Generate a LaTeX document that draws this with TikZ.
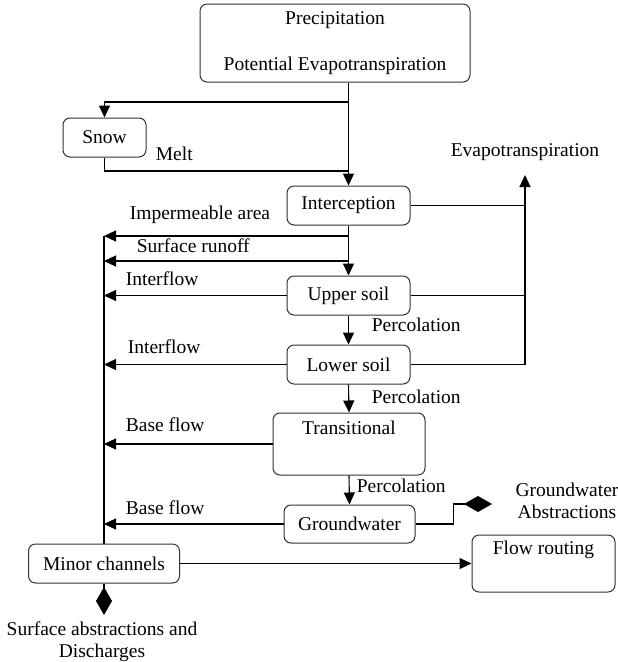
\documentclass[tikz,border=0pt]{standalone}
\usepackage{fontspec}
\setmainfont{Liberation Serif}
\usetikzlibrary{arrows.meta,calc,positioning}
\tikzset{every picture/.style={
  >={Triangle[length=12pt,width=11pt]}   % Large filled arrow heads.
  }
}

\begin{document}
\begin{tikzpicture}[x=1pt,y=-1pt,
    font=\fontsize{19.5}{22}\selectfont,
    stage/.style={
      draw=black!80,
      line width=1pt,
      rounded corners=7pt,
      minimum height=39pt,
      inner sep=2pt
    },
    sink/.style={-{Diamond[length=28pt,width=16pt]}},
    every path/.style={line width=1.1pt}
  ]

    \useasboundingbox (0,0) rectangle (618,662);

    % Draw the stores of the model.
    \node[stage,minimum width=270pt,minimum height=78pt,align=center]
      (prec) at (335,43) {Precipitation\\[24pt]Potential Evapotranspiration};
    \node[stage,minimum width=83pt] (snow) at (104.5,137.5) {Snow};
    \node[stage,minimum width=123pt] (intc) at (348.5,205.5) {Interception};
    \node[stage,minimum width=123pt] (upper) at (348.5,295.5) {Upper soil};
    \node[stage,minimum width=123pt] (lower) at (348.5,364.5) {Lower soil};
    \node[stage,minimum width=152pt,text height=16pt,text depth=36pt,
      inner sep=5pt] (trans) at (349,444) {Transitional};
    \node[stage,minimum width=131pt,minimum height=38pt]
      (gw) at (349.5,524) {Groundwater};
    \node[stage,minimum width=151pt] (minor) at (104,563.5) {Minor channels};
    \node[stage,minimum width=143pt,text height=14pt,text depth=33pt,
      inner sep=5pt] (route) at (543.5,563.5) {Flow routing};

    % Vertical path through the column.
    \draw[->] (intc |- prec.south) -- (intc.north);
    \draw[->] (intc.south) -- (upper.north);
    \draw[->] (upper.south) -- (lower.north);
    \draw[->] (lower.south) -- (trans.north);
    \draw[->] (trans.south) -- (gw.north);
    \node[anchor=west] (perc1) at (368,325) {Percolation};
    \node[anchor=west] (perc2) at (368,397) {Percolation};
    \node[anchor=west] (perc3) at (353,486) {Percolation};

    % Snow branch and melt.
    \coordinate (split) at (348,102);
    \coordinate (merge) at (348,171);
    \draw[->] (split) -| (snow.north);
    \draw (snow.south) |- (merge);
    \node[anchor=west] (melt) at (152,154) {Melt};

    % Collector towards the minor channels.
    \coordinate (ctop) at (104,236);
    \coordinate (srun) at (104,261);
    \draw (ctop) -- (minor.north);
    \draw[->] (intc.south |- ctop) -- (ctop);
    \draw[->] (intc.south |- srun) -- (srun);
    \draw[->] (upper.west) -- (upper.west -| ctop);
    \draw[->] (lower.west) -- (lower.west -| ctop);
    \draw[->] (trans.west) -- (trans.west -| ctop);
    \draw[->] (gw.west) -- (gw.west -| ctop);

    % Label the lateral flows.
    \node (imp) at (200,215) {Impermeable area};
    \node[anchor=west] (surf) at (133,246) {Surface runoff};
    \node[anchor=west] (inter1) at (122,279) {Interflow};
    \node[anchor=west] (inter2) at (124,347) {Interflow};
    \node[anchor=west] (base1) at (122,425) {Base flow};
    \node[anchor=west] (base2) at (122,508) {Base flow};

    % Evapotranspiration losses.
    \coordinate (etx) at (525,175);
    \draw[->] (lower.east) -| (etx);
    \draw (intc.east) -- (intc.east -| etx);
    \draw (upper.east) -- (upper.east -| etx);
    \node[above=10pt of etx] (evap) {Evapotranspiration};

    % Abstractions and routing.
    \coordinate (gwtip) at (492,504);
    \draw[sink] (gw.east) -- ++(38,0) |- (gwtip);
    \node[align=center] (gwab) at (567,501) {Groundwater\\Abstractions};

    \draw[->] (minor.east) -- (route.west);
    \coordinate (satip) at (104,615);
    \draw[sink] (minor.south) -- (satip);
    \node[align=center] (sab) at (102,642)
      {Surface abstractions and\\Discharges};
  \end{tikzpicture}
\end{document}
